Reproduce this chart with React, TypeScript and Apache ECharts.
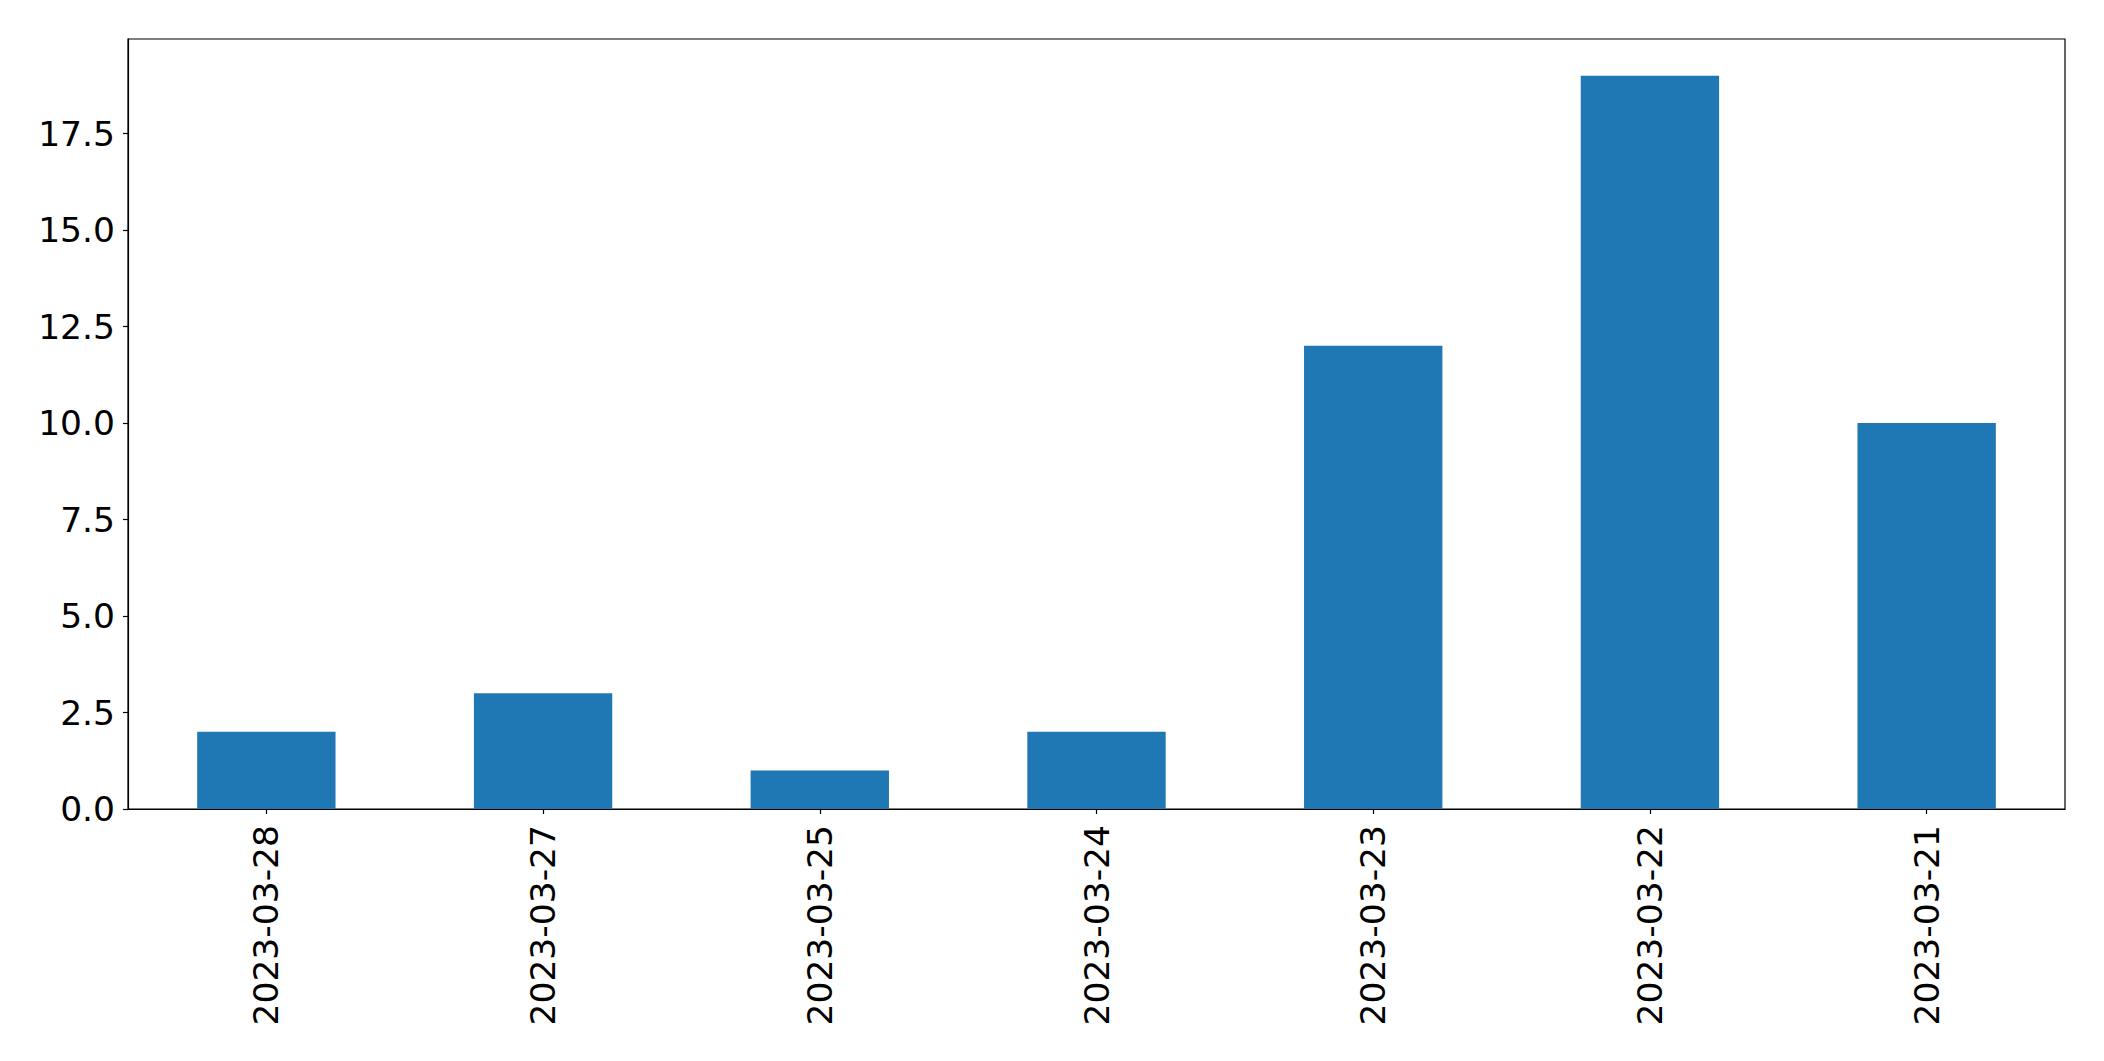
import React, { useEffect, useRef } from "react";
import * as echarts from "echarts";

const categories = ["2023-03-28", "2023-03-27", "2023-03-25", "2023-03-24", "2023-03-23", "2023-03-22", "2023-03-21"];
const values = [2, 3, 1, 2, 12, 19, 10];
const yTicks = [0, 2.5, 5, 7.5, 10, 12.5, 15, 17.5];

export default function App() {
  const ref = useRef<HTMLDivElement>(null);
  useEffect(() => {
    document.body.style.margin = "0";
    const chart = echarts.init(ref.current!, null, { renderer: "svg" });
    const font = "DejaVu Sans";
    chart.setOption({
      animation: false,
      backgroundColor: "#ffffff",
      grid: {
        left: 128,
        top: 39,
        right: 39,
        bottom: 252,
        show: true,
        borderColor: "#000000",
        borderWidth: 1.2,
        backgroundColor: "transparent",
      },
      xAxis: {
        type: "category",
        data: categories,
        axisLine: { show: true, lineStyle: { color: "#000000", width: 1.2 } },
        axisTick: { show: true, alignWithLabel: true, length: 5, lineStyle: { color: "#000000", width: 1.2 } },
        axisLabel: {
          rotate: 90,
          interval: 0,
          margin: 16,
          color: "#000000",
          fontFamily: font,
          fontSize: 34.5,
        },
        splitLine: { show: false },
      },
      yAxis: {
        type: "value",
        min: 0,
        max: 19.95,
        interval: 2.5,
        axisLine: { show: true, lineStyle: { color: "#000000", width: 1.2 } },
        axisTick: { show: true, length: 5, customValues: yTicks, lineStyle: { color: "#000000", width: 1.2 } },
        axisLabel: {
          customValues: yTicks,
          margin: 13,
          color: "#000000",
          fontFamily: font,
          fontSize: 34.5,
          formatter: (v: number) => v.toFixed(1),
        },
        splitLine: { show: false },
      },
      series: [
        {
          type: "bar",
          data: values,
          barWidth: "50%",
          itemStyle: { color: "#1f77b4" },
        },
      ],
    });
    return () => chart.dispose();
  }, []);
  return <div ref={ref} style={{ position: "absolute", left: 0, top: 0, width: 2104, height: 1061 }} />;
}
